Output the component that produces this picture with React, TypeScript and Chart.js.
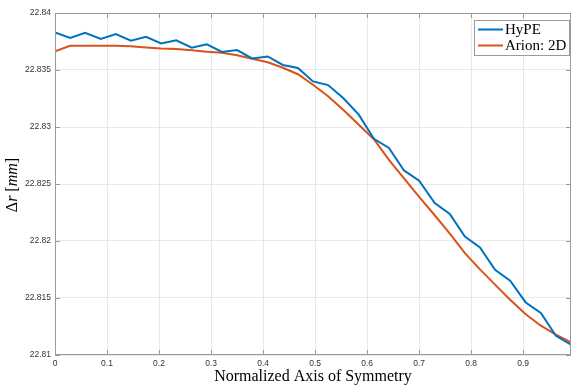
import React, { useEffect, useRef } from "react";
import { Chart, registerables } from "chart.js";

Chart.register(...registerables);

const xValues = [
  0, 0.029, 0.058, 0.088, 0.117, 0.146, 0.175, 0.204, 0.233, 0.263, 0.292, 0.321,
  0.35, 0.379, 0.409, 0.438, 0.467, 0.496, 0.525, 0.554, 0.584, 0.613, 0.642, 0.671,
  0.7, 0.73, 0.759, 0.788, 0.817, 0.846, 0.875, 0.905, 0.934, 0.963, 0.992,
];

const hypeValues = [
  22.8383, 22.83781, 22.83827, 22.83772, 22.83816, 22.83757, 22.83792, 22.83733,
  22.8376, 22.83696, 22.83725, 22.83658, 22.83675, 22.83602, 22.83619, 22.83544,
  22.83518, 22.834, 22.83368, 22.83254, 22.83108, 22.82897, 22.82816, 22.82619,
  22.82529, 22.82333, 22.82237, 22.8204, 22.81944, 22.81748, 22.81652, 22.81461,
  22.81368, 22.81169, 22.8109,
];

const arionValues = [
  22.83663, 22.83713, 22.83713, 22.83713, 22.83713, 22.83709, 22.83698, 22.83689,
  22.83684, 22.83674, 22.83661, 22.83652, 22.8363, 22.83599, 22.83568, 22.8352,
  22.83463, 22.83371, 22.8327, 22.83152, 22.8302, 22.82893, 22.82711, 22.82549,
  22.82388, 22.82226, 22.82065, 22.81893, 22.81751, 22.81617, 22.81485, 22.81358,
  22.81257, 22.81178, 22.81111,
];

const seriesLabels = ["HyPE", "Arion: 2D"];
const xTicks = [0, 0.1, 0.2, 0.3, 0.4, 0.5, 0.6, 0.7, 0.8, 0.9];
const yTicks = [22.81, 22.815, 22.82, 22.825, 22.83, 22.835, 22.84];
const xTitle = "Normalized Axis of Symmetry";
// y title pieces: [text, italic]
const yTitleParts: [string, boolean][] = [
  ["Δ", false],
  ["r", true],
  [" [", false],
  ["mm", true],
  ["]", false],
];

const AXIS_COLOR = "#9a9a9a";
const BLUE = "#0072BD";
const ORANGE = "#D95319";
const SERIF = "'Liberation Serif', serif";

const boxPlugin = {
  id: "matlabBox",
  afterDraw(chart: any) {
    const { ctx, chartArea } = chart;
    const { left, right, top, bottom } = chartArea;
    const xs = chart.scales.x;
    const ys = chart.scales.y;
    ctx.save();
    ctx.strokeStyle = AXIS_COLOR;
    ctx.lineWidth = 1;
    ctx.beginPath();
    ctx.rect(left + 0.5, top + 0.5, right - left - 1, bottom - top - 1);
    const tl = 5;
    xs.ticks.forEach((t: any) => {
      const px = Math.round(xs.getPixelForValue(t.value)) + 0.5;
      ctx.moveTo(px, bottom);
      ctx.lineTo(px, bottom - tl);
      ctx.moveTo(px, top);
      ctx.lineTo(px, top + tl);
    });
    ys.ticks.forEach((t: any) => {
      const py = Math.round(ys.getPixelForValue(t.value)) + 0.5;
      ctx.moveTo(left, py);
      ctx.lineTo(left + tl, py);
      ctx.moveTo(right, py);
      ctx.lineTo(right - tl, py);
    });
    ctx.stroke();

    // legend
    const lx = 474.5, ly = 20.5, lw = 95, lh = 35;
    ctx.fillStyle = "#ffffff";
    ctx.fillRect(lx, ly, lw, lh);
    ctx.strokeStyle = AXIS_COLOR;
    ctx.strokeRect(lx, ly, lw, lh);
    ctx.font = `15px ${SERIF}`;
    ctx.textBaseline = "middle";
    ctx.textAlign = "left";
    chart.data.datasets.forEach((ds: any, i: number) => {
      const yy = 29.5 + i * 16;
      ctx.strokeStyle = ds.borderColor;
      ctx.lineWidth = 2;
      ctx.beginPath();
      ctx.moveTo(478, yy);
      ctx.lineTo(503, yy);
      ctx.stroke();
      ctx.fillStyle = "#000";
      ctx.fillText(ds.label, 505, yy + 1);
    });

    // y title with italic pieces
    const size = 16;
    const fontFor = (it: boolean) => `${it ? "italic " : ""}${size}px ${SERIF}`;
    let total = 0;
    const widths = yTitleParts.map(([t, it]) => {
      ctx.font = fontFor(it);
      const w = ctx.measureText(t).width;
      total += w;
      return w;
    });
    ctx.translate(13, (top + bottom) / 2 + 1);
    ctx.rotate(-Math.PI / 2);
    ctx.fillStyle = "#000";
    ctx.textBaseline = "middle";
    let cx = -total / 2;
    yTitleParts.forEach(([t, it], i) => {
      ctx.font = fontFor(it);
      ctx.fillText(t, cx, 0);
      cx += widths[i];
    });
    ctx.restore();
  },
};

export default function App() {
  const ref = useRef<HTMLCanvasElement | null>(null);
  useEffect(() => {
    if (!ref.current) return;
    const chart = new Chart(ref.current, {
      type: "line",
      data: {
        datasets: [
          {
            label: seriesLabels[0],
            data: xValues.map((x, i) => ({ x, y: hypeValues[i] })),
            borderColor: BLUE,
            backgroundColor: BLUE,
            borderWidth: 2,
            pointRadius: 0,
            tension: 0,
          },
          {
            label: seriesLabels[1],
            data: xValues.map((x, i) => ({ x, y: arionValues[i] })),
            borderColor: ORANGE,
            backgroundColor: ORANGE,
            borderWidth: 2,
            pointRadius: 0,
            tension: 0,
          },
        ],
      },
      options: {
        animation: false,
        responsive: true,
        maintainAspectRatio: false,
        layout: { padding: { top: 13, right: 1, left: 0, bottom: 0 } },
        plugins: { legend: { display: false }, tooltip: { enabled: false } },
        scales: {
          x: {
            type: "linear",
            min: 0,
            max: 0.992,
            afterBuildTicks: (s: any) => {
              s.ticks = xTicks.map((v) => ({ value: v }));
            },
            afterFit: (s: any) => {
              s.height = 30;
            },
            ticks: {
              callback: (v: any) => String(v),
              font: { family: "'Liberation Sans', Arial, sans-serif", size: 8.5 },
              color: "#333",
              padding: 4,
              maxRotation: 0,
              autoSkip: false,
            },
            grid: { color: "#e8e8e8", drawTicks: false },
            border: { display: false },
            title: {
              display: true,
              text: xTitle,
              font: { family: SERIF, size: 16 },
              color: "#000",
              padding: { top: 0, bottom: -1 },
            },
          },
          y: {
            type: "linear",
            min: 22.81,
            max: 22.84,
            afterBuildTicks: (s: any) => {
              s.ticks = yTicks.map((v) => ({ value: v }));
            },
            afterFit: (s: any) => {
              s.width = 55;
            },
            ticks: {
              callback: (v: any) => String(v),
              font: { family: "'Liberation Sans', Arial, sans-serif", size: 8.5 },
              color: "#333",
              padding: 4,
              autoSkip: false,
            },
            grid: { color: "#e8e8e8", drawTicks: false },
            border: { display: false },
            title: { display: false },
          },
        },
      },
      plugins: [boxPlugin],
    });
    return () => chart.destroy();
  }, []);
  return (
    <div style={{ position: "absolute", left: 0, top: 0, width: 572, height: 385 }}>
      <canvas ref={ref} />
    </div>
  );
}
